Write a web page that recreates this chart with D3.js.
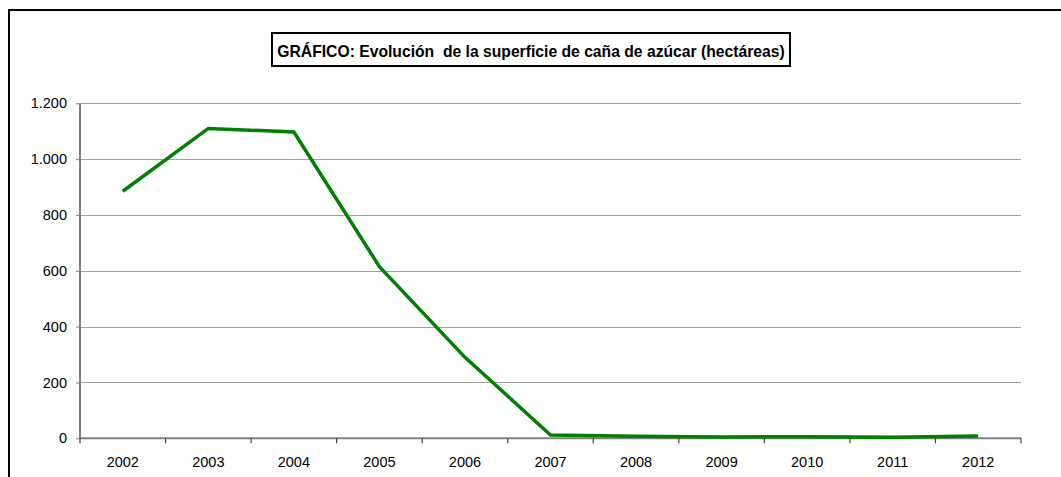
<!DOCTYPE html>
<html><head><meta charset="utf-8">
<script src="https://cdn.jsdelivr.net/npm/d3@7"></script>
<style>body{margin:0;background:#fff;} svg{display:block;font-family:"Liberation Sans",Arial,sans-serif;}</style>
</head><body>
<svg id="c" width="1061" height="477"></svg>
<script>
const years = ["2002","2003","2004","2005","2006","2007","2008","2009","2010","2011","2012"];
const values = [885,1110,1097,615,290,12,7,5,6,4,8];
const yTicks = [0,200,400,600,800,1000,1200];
const title = "GRÁFICO: Evolución  de la superficie de caña de azúcar (hectáreas)";

(function(){
const svg = d3.select("#c");
svg.append("rect").attr("width",1061).attr("height",477).attr("fill","#fff");
// outer border
svg.append("path").attr("d","M9,477 V10 H1061").attr("fill","none").attr("stroke","#000").attr("stroke-width",2);

const pL=80,pR=1021,pT=103.3,pB=438.3;
const x = d3.scaleBand().domain(years).range([pL,pR]);
const y = d3.scaleLinear().domain([0,1200]).range([pB,pT]);
const fmt = d => d3.format(",")(d).replace(/,/g,".");

// gridlines
svg.append("g").selectAll("line").data(yTicks.filter(d=>d>0)).join("line")
  .attr("x1",pL).attr("x2",pR).attr("y1",d=>Math.round(y(d))+0.5).attr("y2",d=>Math.round(y(d))+0.5)
  .attr("stroke","#a0a0a0").attr("stroke-width",1);

// y axis
const ya = svg.append("g").attr("transform",`translate(${pL},0)`)
  .call(d3.axisLeft(y).tickValues(yTicks).tickFormat(fmt).tickSize(4).tickPadding(9));
ya.select(".domain").attr("stroke","#808080").attr("stroke-width",2).attr("d",`M0,${pT}V${pB}`);
ya.selectAll(".tick line").attr("stroke","#808080");
ya.selectAll("text").attr("font-size",14.5).attr("fill","#000").attr("font-family","Liberation Sans, Arial, sans-serif");

// x axis
const xa = svg.append("g").attr("transform",`translate(0,${pB})`)
  .call(d3.axisBottom(x).tickSize(0).tickPadding(18));
xa.select(".domain").attr("stroke","#808080").attr("stroke-width",2).attr("d",`M${pL},0H${pR}`);
xa.selectAll("text").attr("font-size",14.5).attr("fill","#000").attr("font-family","Liberation Sans, Arial, sans-serif");
const bounds = years.map(d=>x(d)).concat([pR]);
xa.append("g").selectAll("line").data(bounds).join("line")
  .attr("x1",d=>d).attr("x2",d=>d).attr("y1",0).attr("y2",5).attr("stroke","#404040").attr("stroke-width",1.2);

// line
const line = d3.line().x((d,i)=>x(years[i])+x.bandwidth()/2).y(d=>y(d));
svg.append("path").datum(values).attr("d",line).attr("fill","none")
  .attr("stroke","#008000").attr("stroke-width",3.5).attr("stroke-linejoin","miter");

// title
svg.append("rect").attr("x",272).attr("y",33).attr("width",518).attr("height",33)
  .attr("fill","#fff").attr("stroke","#000").attr("stroke-width",2);
svg.append("text").attr("x",531).attr("y",56.5).attr("text-anchor","middle")
  .attr("font-size",15.7).attr("font-weight","bold").attr("fill","#000")
  .style("white-space","pre").attr("xml:space","preserve").text(title);
})();
</script>
</body></html>
